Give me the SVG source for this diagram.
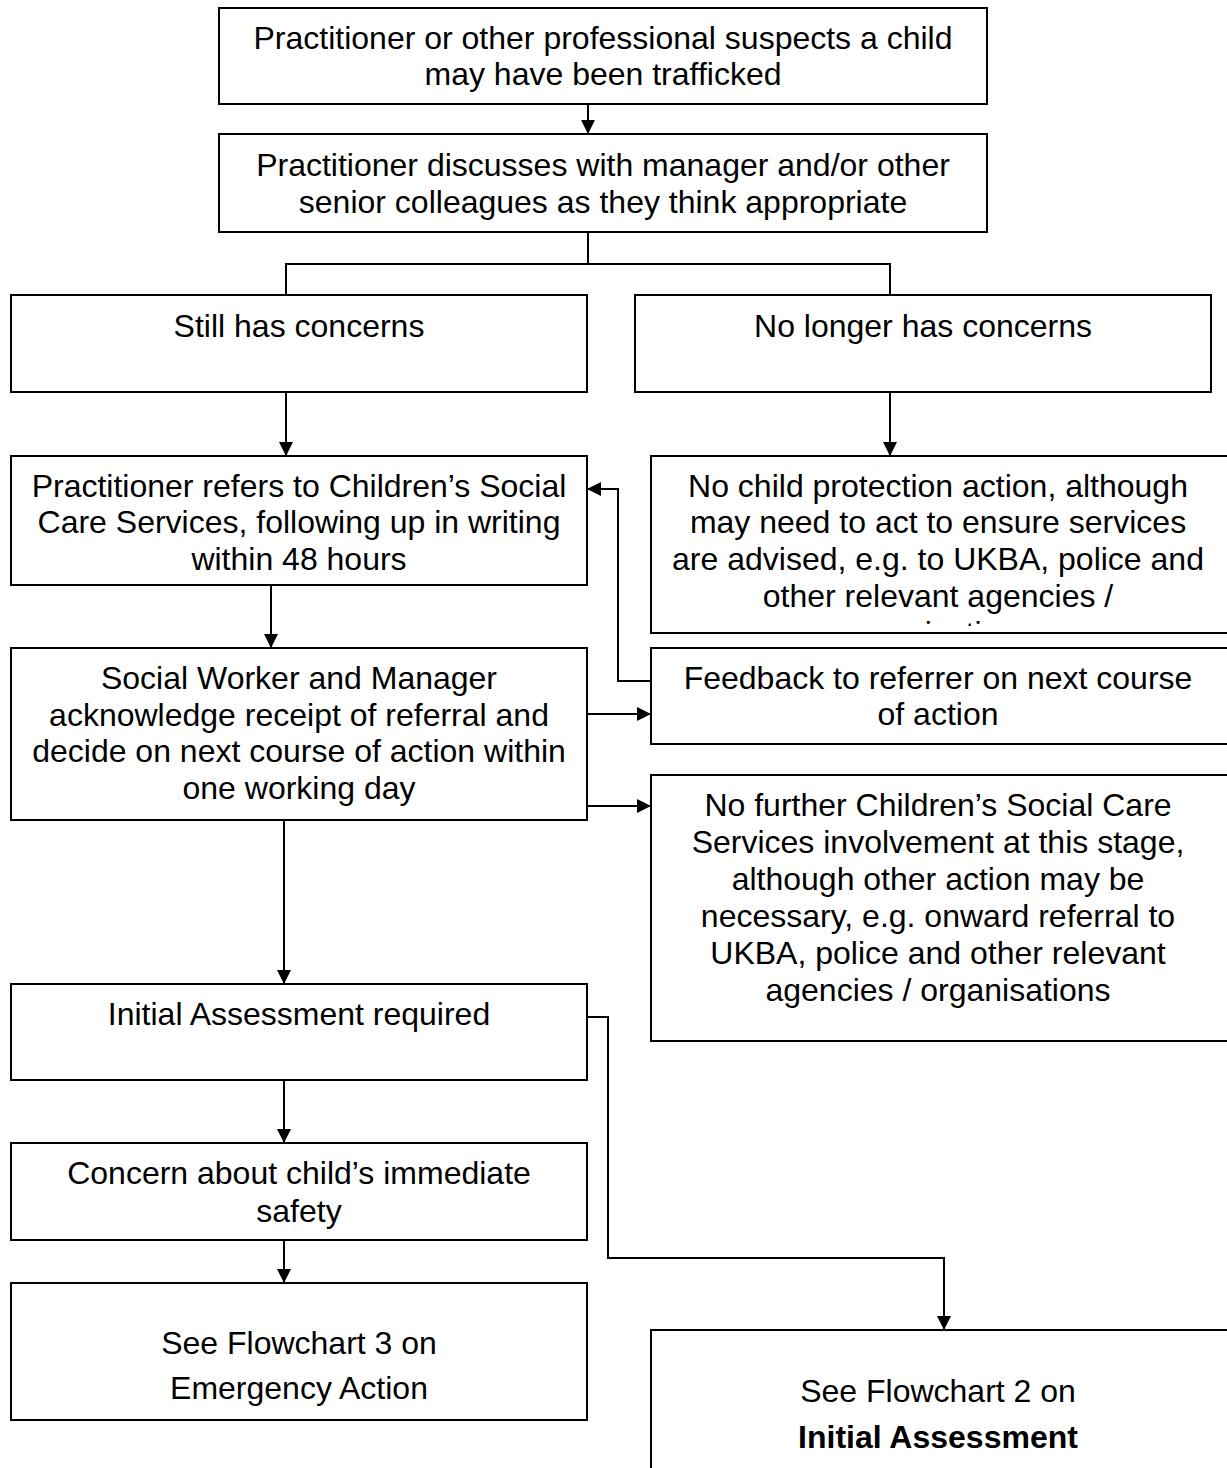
<svg xmlns="http://www.w3.org/2000/svg" width="1227" height="1468" viewBox="0 0 1227 1468">
<style>
.box{fill:#fff;stroke:#000;stroke-width:2}
text{font-family:"Liberation Sans",Arial,sans-serif;font-size:32px;fill:#000;text-anchor:middle}
.b{font-weight:bold}
.c{fill:none;stroke:#000;stroke-width:2}
</style>
<defs>
<marker id="ah" markerWidth="14" markerHeight="14" refX="13" refY="7" orient="auto" markerUnits="userSpaceOnUse">
<path d="M0,0 L14,7 L0,14 z" fill="#000"/>
</marker>
<clipPath id="clip6"><rect x="651" y="456" width="576" height="170"/></clipPath>
</defs>
<g id="connectors">
<line class="c" x1="588" y1="104" x2="588" y2="133" marker-end="url(#ah)"/>
<polyline class="c" points="588,232 588,264"/>
<polyline class="c" points="286,295 286,264 890,264 890,295"/>
<line class="c" x1="286" y1="392" x2="286" y2="455" marker-end="url(#ah)"/>
<line class="c" x1="890" y1="392" x2="890" y2="455" marker-end="url(#ah)"/>
<line class="c" x1="271" y1="585" x2="271" y2="647" marker-end="url(#ah)"/>
<polyline class="c" points="651,681 618,681 618,489 588,489" marker-end="url(#ah)"/>
<line class="c" x1="587" y1="714" x2="650" y2="714" marker-end="url(#ah)"/>
<line class="c" x1="587" y1="806" x2="650" y2="806" marker-end="url(#ah)"/>
<line class="c" x1="284" y1="820" x2="284" y2="983" marker-end="url(#ah)"/>
<polyline class="c" points="582,1017 608,1017 608,1258 944,1258 944,1329" marker-end="url(#ah)"/>
<line class="c" x1="284" y1="1080" x2="284" y2="1142" marker-end="url(#ah)"/>
<line class="c" x1="284" y1="1240" x2="284" y2="1282" marker-end="url(#ah)"/>
</g>
<g id="n1"><rect class="box" x="219" y="8" width="768" height="96"/>
<text x="603" y="49">Practitioner or other professional suspects a child</text>
<text x="603" y="85">may have been trafficked</text></g>
<g id="n2"><rect class="box" x="219" y="134" width="768" height="98"/>
<text x="603" y="176">Practitioner discusses with manager and/or other</text>
<text x="603" y="213">senior colleagues as they think appropriate</text></g>
<g id="n3"><rect class="box" x="11" y="295" width="576" height="97"/>
<text x="299" y="337">Still has concerns</text></g>
<g id="n4"><rect class="box" x="635" y="295" width="576" height="97"/>
<text x="923" y="337">No longer has concerns</text></g>
<g id="n5"><rect class="box" x="11" y="456" width="576" height="129"/>
<text x="299" y="497">Practitioner refers to Children’s Social</text>
<text x="299" y="533">Care Services, following up in writing</text>
<text x="299" y="570">within 48 hours</text></g>
<g id="n6"><rect class="box" x="651" y="456" width="578" height="177"/>
<g clip-path="url(#clip6)">
<text x="938" y="497">No child protection action, although</text>
<text x="938" y="533">may need to act to ensure services</text>
<text x="938" y="570">are advised, e.g. to UKBA, police and</text>
<text x="938" y="607">other relevant agencies /</text>
<text x="938" y="644">organisations</text></g></g>
<g id="n7"><rect class="box" x="11" y="648" width="576" height="172"/>
<text x="299" y="689">Social Worker and Manager</text>
<text x="299" y="726">acknowledge receipt of referral and</text>
<text x="299" y="762">decide on next course of action within</text>
<text x="299" y="799">one working day</text></g>
<g id="n8"><rect class="box" x="651" y="648" width="578" height="96"/>
<text x="938" y="689">Feedback to referrer on next course</text>
<text x="938" y="725">of action</text></g>
<g id="n9"><rect class="box" x="651" y="775" width="578" height="266"/>
<text x="938" y="816">No further Children’s Social Care</text>
<text x="938" y="853">Services involvement at this stage,</text>
<text x="938" y="890">although other action may be</text>
<text x="938" y="927">necessary, e.g. onward referral to</text>
<text x="938" y="964">UKBA, police and other relevant</text>
<text x="938" y="1001">agencies / organisations</text></g>
<g id="n10"><rect class="box" x="11" y="984" width="576" height="96"/>
<text x="299" y="1025">Initial Assessment required</text></g>
<g id="n11"><rect class="box" x="11" y="1143" width="576" height="97"/>
<text x="299" y="1184">Concern about child’s immediate</text>
<text x="299" y="1222">safety</text></g>
<g id="n12"><rect class="box" x="11" y="1283" width="576" height="137"/>
<text x="299" y="1354">See Flowchart 3 on</text>
<text x="299" y="1399">Emergency Action</text></g>
<g id="n13"><rect class="box" x="651" y="1330" width="578" height="150"/>
<text x="938" y="1402">See Flowchart 2 on</text>
<text class="b" x="938" y="1448">Initial Assessment</text></g>
</svg>
